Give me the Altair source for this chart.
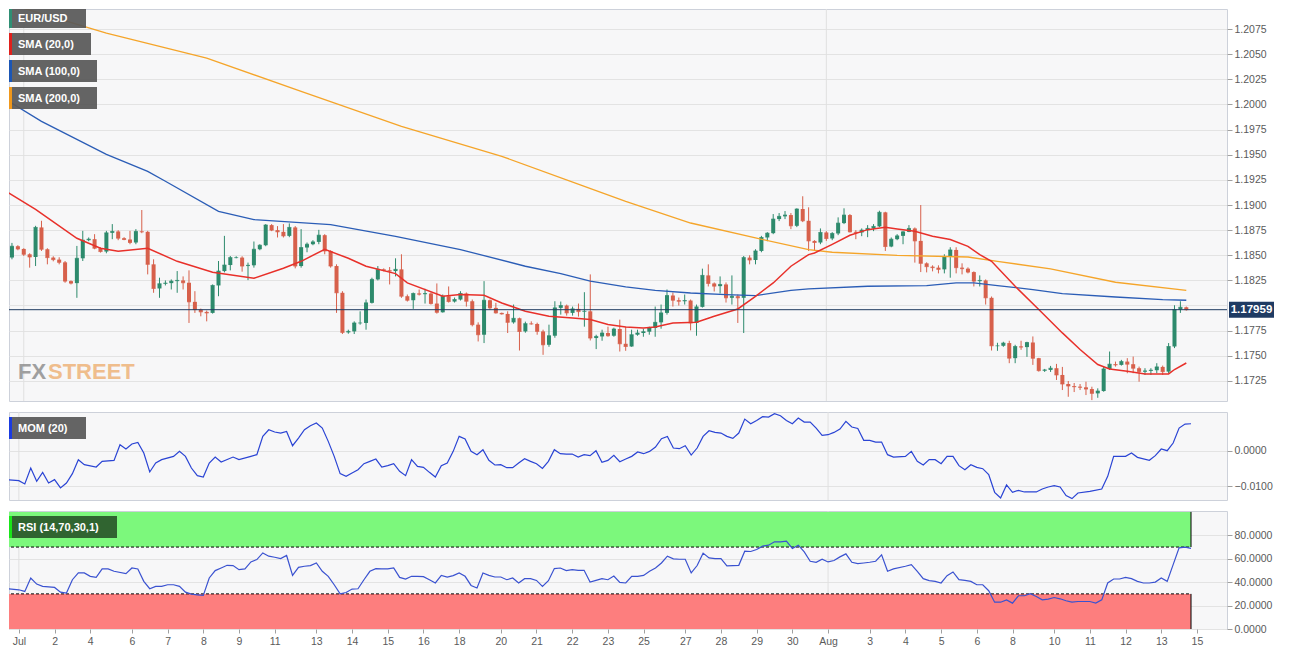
import altair as alt
import pandas as pd

# ---------------- data ----------------
first_open = 1.18943
close = [
1.18477,1.18590,1.18563,1.18510,1.18483,1.18777,1.18560,1.18477,1.18457,1.18430,
1.18243,1.18223,1.18470,1.18650,1.18660,1.18570,1.18537,1.18723,1.18737,1.18670,
1.18657,1.18627,1.18737,1.18733,1.18410,1.18170,1.18217,1.18223,1.18243,1.18250,
1.18227,1.18037,1.17960,1.17937,1.17927,1.18200,1.18343,1.18403,1.18477,1.18477,
1.18393,1.18400,1.18560,1.18600,1.18800,1.18750,1.18733,1.18693,1.18777,1.18393,
1.18577,1.18610,1.18633,1.18700,1.18543,1.18393,1.18127,1.17733,1.17743,1.17827,
1.17827,1.18027,1.18260,1.18360,1.18350,1.18343,1.18360,1.18093,1.18053,1.18120,
1.18113,1.18120,1.18020,1.17933,1.18093,1.18040,1.18060,1.18120,1.18043,1.17810,
1.17710,1.18053,1.17977,1.17927,1.17917,1.17833,1.17873,1.17743,1.17820,1.17817,
1.17743,1.17610,1.17700,1.17977,1.18000,1.17927,1.17967,1.17940,1.17943,1.17677,
1.17693,1.17727,1.17700,1.17767,1.17620,1.17593,1.17710,1.17727,1.17740,1.17777,
1.17833,1.17927,1.18100,1.18053,1.18043,1.18050,1.17827,1.17987,1.18300,1.18220,
1.18193,1.18210,1.18077,1.18093,1.18077,1.18477,1.18453,1.18543,1.18677,1.18720,
1.18860,1.18887,1.18900,1.18793,1.18960,1.18843,1.18643,1.18627,1.18727,1.18667,
1.18717,1.18820,1.18900,1.18733,1.18727,1.18750,1.18767,1.18787,1.18927,1.18587,
1.18660,1.18693,1.18733,1.18767,1.18643,1.18420,1.18387,1.18377,1.18360,1.18487,
1.18553,1.18377,1.18367,1.18333,1.18243,1.18250,1.18077,1.17600,1.17600,1.17627,
1.17477,1.17593,1.17587,1.17633,1.17477,1.17353,1.17360,1.17377,1.17310,1.17220,
1.17200,1.17193,1.17187,1.17170,1.17127,1.17150,1.17370,1.17417,1.17410,1.17443,
1.17417,1.17377,1.17343,1.17350,1.17357,1.17390,1.17343,1.17593,1.17960,1.17983,
1.17959]
high = [
1.18960,1.18623,1.18600,1.18570,1.18520,1.18793,1.18843,1.18570,1.18490,1.18480,
1.18443,1.18250,1.18593,1.18743,1.18677,1.18710,1.18580,1.18743,1.18810,1.18750,
1.18680,1.18743,1.18760,1.18950,1.18743,1.18460,1.18277,1.18250,1.18260,1.18343,
1.18290,1.18350,1.18143,1.17970,1.17950,1.18210,1.18443,1.18693,1.18493,1.18490,
1.18490,1.18427,1.18637,1.18610,1.18810,1.18810,1.18790,1.18810,1.18817,1.18790,
1.18760,1.18627,1.18650,1.18753,1.18710,1.18550,1.18410,1.18143,1.17760,1.17843,
1.17943,1.18060,1.18277,1.18393,1.18370,1.18383,1.18470,1.18510,1.18110,1.18130,
1.18160,1.18167,1.18130,1.18220,1.18110,1.18190,1.18080,1.18143,1.18130,1.18060,
1.17833,1.18243,1.18060,1.18027,1.17930,1.17943,1.18010,1.17880,1.17840,1.17843,
1.17830,1.17760,1.17810,1.18043,1.18040,1.18010,1.17990,1.18020,1.18133,1.18310,
1.17710,1.17760,1.17790,1.17780,1.17860,1.17790,1.17760,1.17760,1.17770,1.17790,
1.17990,1.18010,1.18160,1.18130,1.18080,1.18110,1.18060,1.18010,1.18367,1.18410,
1.18230,1.18290,1.18230,1.18300,1.18110,1.18493,1.18500,1.18560,1.18693,1.18730,
1.18910,1.18920,1.18940,1.18920,1.18967,1.19087,1.18977,1.18650,1.18767,1.18740,
1.18730,1.18877,1.18967,1.18910,1.18750,1.18767,1.18800,1.18810,1.18943,1.18933,
1.18677,1.18710,1.18740,1.18800,1.18777,1.19000,1.18430,1.18400,1.18400,1.18510,
1.18580,1.18580,1.18420,1.18380,1.18340,1.18300,1.18260,1.18090,1.17630,1.17640,
1.17650,1.17610,1.17650,1.17640,1.17693,1.17480,1.17370,1.17400,1.17420,1.17390,
1.17250,1.17230,1.17220,1.17243,1.17193,1.17177,1.17393,1.17543,1.17443,1.17460,
1.17477,1.17493,1.17393,1.17377,1.17377,1.17427,1.17403,1.17627,1.18003,1.18043,
1.17990]
low = [
1.18460,1.18460,1.18550,1.18493,1.18377,1.18393,1.18543,1.18410,1.18440,1.18410,
1.18227,1.18210,1.18077,1.18443,1.18640,1.18560,1.18527,1.18520,1.18660,1.18650,
1.18650,1.18610,1.18610,1.18720,1.18310,1.18127,1.18077,1.18200,1.18160,1.18127,
1.18160,1.17827,1.17927,1.17893,1.17843,1.17920,1.18093,1.18330,1.18350,1.18470,
1.18337,1.18253,1.18377,1.18550,1.18590,1.18740,1.18677,1.18677,1.18680,1.18370,
1.18377,1.18530,1.18600,1.18610,1.18510,1.18377,1.17927,1.17717,1.17720,1.17717,
1.17810,1.17760,1.18020,1.18250,1.18340,1.18210,1.18290,1.18077,1.18040,1.17967,
1.18100,1.18020,1.18010,1.17920,1.17930,1.18030,1.18030,1.18050,1.17990,1.17793,
1.17643,1.17627,1.17960,1.17920,1.17910,1.17727,1.17820,1.17553,1.17730,1.17810,
1.17710,1.17510,1.17590,1.17680,1.17910,1.17900,1.17900,1.17890,1.17790,1.17653,
1.17567,1.17650,1.17690,1.17690,1.17543,1.17550,1.17590,1.17700,1.17690,1.17710,
1.17690,1.17770,1.17910,1.17990,1.18000,1.18010,1.17753,1.17700,1.17980,1.18190,
1.18140,1.18120,1.18030,1.18010,1.17827,1.17727,1.18410,1.18410,1.18530,1.18640,
1.18710,1.18840,1.18860,1.18760,1.18780,1.18830,1.18543,1.18543,1.18610,1.18643,
1.18650,1.18700,1.18810,1.18727,1.18660,1.18690,1.18680,1.18740,1.18780,1.18543,
1.18580,1.18650,1.18610,1.18730,1.18427,1.18333,1.18330,1.18340,1.18320,1.18320,
1.18277,1.18320,1.18310,1.18320,1.18190,1.18190,1.18010,1.17553,1.17550,1.17590,
1.17427,1.17427,1.17560,1.17490,1.17410,1.17343,1.17340,1.17340,1.17260,1.17160,
1.17093,1.17140,1.17160,1.17110,1.17060,1.17083,1.17143,1.17360,1.17393,1.17403,
1.17327,1.17327,1.17243,1.17310,1.17310,1.17327,1.17310,1.17327,1.17577,1.17927,
1.17950]

sma20_k = [0,5,12,16,19,24,29,35,42,47,50,54,58,61,66,68,74,77,81,84,88,92,96,99,102,105,108,110,113,117,
           120,124,127,130,133,136,137,140,143,146,149,151,154,157,160,163,165,167,171,175,179,182,185,187,190,193,197,198,200]
sma20_v = [1.19136,1.18957,1.18669,1.18570,1.18540,1.18570,1.18440,1.18331,1.18271,1.18371,
           1.18440,1.18560,1.18470,1.18391,1.18318,1.18225,1.18092,1.18109,1.18102,1.18026,
           1.17943,1.17894,1.17877,1.17861,1.17811,1.17787,1.17777,1.17787,1.17827,1.17834,
           1.17894,1.17966,1.18092,1.18225,1.18391,1.18507,1.18523,1.18609,1.18699,1.18755,
           1.18778,1.18761,1.18739,1.18689,1.18656,1.18589,1.18507,1.18440,1.18192,1.17960,
           1.17728,1.17563,1.17414,1.17370,1.17347,1.17320,1.17320,1.17364,1.17429]
sma100_k = [0,6,17,24,27,36,42,55,66,77,88,94,99,105,110,116,122,127,133,136,146,156,161,164,168,174,179,188,196,200]
sma100_v = [1.20048,1.19832,1.19504,1.19335,1.19236,1.18937,1.18855,1.18805,1.18689,1.18557,
            1.18391,1.18318,1.18242,1.18185,1.18152,1.18125,1.18109,1.18099,1.18152,1.18165,
            1.18192,1.18199,1.18225,1.18225,1.18199,1.18159,1.18119,1.18085,1.18060,1.18053]
sma200_k = [0,17,34,50,67,84,98,105,116,127,136,140,151,163,168,177,188,200]
sma200_v = [1.21008,1.20710,1.20461,1.20130,1.19782,1.19484,1.19186,1.19037,1.18821,1.18672,
            1.18557,1.18530,1.18500,1.18483,1.18440,1.18364,1.18232,1.18152]

mom_k = [0,1,3,4,5,6,7,8,9,10,11,12,13,14,16,17,19,20,21,22,23,24,25,26,27,29,30,31,32,33,
         34,35,36,37,39,40,42,43,44,45,46,47,48,49,50,51,52,53,54,55,56,57,58,59,60,61,62,63,64,65,
         66,67,68,69,70,71,72,73,74,75,
         76,77,78,79,80,81,82,83,84,85,86,87,88,89,90,91,92,93,94,95,96,97,98,99,100,101,102,103,104,105,
         106,107,108,109,110,111,112,113,114,115,116,117,118,119,120,121,122,123,124,125,126,127,128,129,130,
         131,132,133,134,135,136,137,138,139,140,141,142,
         143,144,145,146,147,148,149,150,152,153,154,155,156,157,158,159,160,161,162,163,164,165,166,167,168,
         169,170,171,172,174,175,176,177,178,179,180,181,183,185,186,187,188,189,190,191,193,194,195,196,197,
         198,199,200]
mom_v = [-0.00907,-0.00813,-0.00842,-0.00935,-0.00486,-0.00860,-0.00608,-0.00907,-0.00813,-0.01047,
         -0.00907,-0.00645,-0.00252,-0.00393,-0.00458,-0.00299,-0.00271,0.00168,0.00047,0.00187,
         0.00234,-0.00065,-0.00598,-0.00346,-0.00252,-0.00159,-0.00019,-0.00159,-0.00486,-0.00701,
         -0.00739,-0.00346,-0.00178,-0.00318,-0.00178,-0.00252,-0.00159,-0.00112,0.00402,0.00589,
         0.00524,0.00496,0.00542,0.00140,0.00355,0.00589,0.00701,0.00776,0.00636,0.00262,
         -0.00159,-0.00645,-0.00720,-0.00626,-0.00533,-0.00365,-0.00299,-0.00234,-0.00458,-0.00421,
         -0.00365,-0.00580,-0.00701,-0.00252,-0.00439,-0.00468,-0.00608,-0.00739,-0.00421,-0.00346,
         -0.00019,0.00402,0.00327,-0.00019,-0.00112,0.00028,-0.00271,-0.00402,-0.00393,-0.00477,
         -0.00477,-0.00346,-0.00224,-0.00299,-0.00365,-0.00496,-0.00299,0.00028,-0.00084,-0.00094,
         -0.00094,-0.00178,-0.00112,-0.00140,0.00000,-0.00327,-0.00271,-0.00131,-0.00309,-0.00234,
         -0.00159,-0.00037,-0.00084,-0.00019,0.00103,0.00337,0.00402,0.00075,0.00056,0.00140,
         -0.00122,0.00075,0.00402,0.00561,0.00514,0.00496,0.00402,0.00346,0.00496,0.00888,
         0.00757,0.00851,0.00954,0.00944,0.01038,0.00982,0.00851,0.00757,0.00916,0.00804,
         0.00804,0.00636,0.00430,0.00449,0.00514,0.00608,0.00823,
         0.00664,0.00626,0.00290,0.00290,0.00243,0.00243,-0.00112,-0.00178,-0.00159,-0.00019,
         -0.00299,-0.00402,-0.00252,-0.00252,-0.00365,-0.00159,-0.00159,-0.00421,-0.00533,-0.00393,
         -0.00468,-0.00505,-0.00673,-0.01169,-0.01328,-0.00963,-0.01169,-0.01113,-0.01159,-0.01159,
         -0.01075,-0.01019,-0.00982,-0.01019,-0.01262,-0.01347,-0.01187,-0.01141,-0.01075,-0.00720,
         -0.00159,-0.00159,-0.00159,-0.00065,-0.00187,-0.00271,-0.00140,0.00047,0.00000,0.00215,
         0.00636,0.00748,0.00757]

rsi_k = [0,1,3,4,5,6,7,9,10,11,12,13,14,15,16,17,18,19,
         21,22,23,24,25,26,27,28,29,30,31,32,33,34,35,36,37,38,39,40,41,42,43,44,45,46,47,48,49,50,
         51,52,53,54,55,56,57,58,59,60,61,62,63,64,65,66,67,68,69,70,71,72,73,74,75,
         76,77,78,79,80,81,82,83,84,85,86,87,88,89,90,91,92,93,94,95,96,97,98,99,100,101,102,103,104,105,
         106,107,108,109,110,111,112,113,114,115,116,117,118,119,120,121,122,123,124,125,126,127,128,129,130,
         131,132,133,134,135,136,137,138,139,140,141,142,
         143,144,145,146,147,148,149,150,152,153,154,155,156,157,158,159,160,161,162,163,164,165,166,167,168,
         169,170,171,172,173,174,175,176,177,178,179,180,181,183,184,185,186,187,188,189,190,191,192,193,194,
         195,196,197,198,199,200]
rsi_v = [31.2,34.4,33.5,32.1,43.6,38.4,36.4,35.5,31.5,30.7,42.1,47.9,47.9,45.0,44.1,51.3,51.3,49.3,
         47.3,52.1,51.3,40.7,34.4,36.4,36.4,37.8,37.8,36.4,31.5,29.8,29.2,28.7,43.6,49.9,52.1,54.4,54.2,50.7,
         51.3,57.3,59.3,65.0,62.2,61.3,60.2,62.8,45.8,52.7,53.6,54.2,56.4,49.3,45.0,37.8,30.1,31.2,34.1,34.4,
         42.1,49.3,51.6,51.3,51.3,52.1,44.1,42.7,45.0,45.0,44.7,42.1,39.3,45.8,44.4,
         45.6,47.9,45.0,37.2,35.0,47.9,45.8,44.4,44.4,42.1,43.6,39.3,43.0,43.0,41.5,36.4,41.3,51.6,52.1,49.9,
         50.7,50.1,50.1,40.1,41.5,43.0,42.1,45.3,39.8,39.3,45.0,45.0,45.8,49.3,52.1,56.4,62.2,59.9,59.6,59.6,
         47.9,54.2,64.8,60.7,60.2,60.2,53.9,54.2,54.4,66.5,66.2,67.9,70.8,71.6,74.5,74.5,75.1,68.8,71.6,65.9,
         57.9,57.0,59.6,57.3,58.5,61.6,64.2,
         57.0,55.9,56.4,57.0,57.9,63.3,49.3,51.3,53.6,55.0,49.3,43.0,41.3,40.7,39.3,45.6,48.7,42.1,41.5,40.7,
         37.8,37.8,32.7,22.9,22.9,24.9,22.1,28.4,28.4,30.1,27.8,24.9,25.5,26.9,25.8,24.1,22.9,23.5,23.5,22.1,
         24.9,39.3,42.7,42.7,44.1,43.0,40.7,39.3,39.3,40.1,43.6,40.7,55.0,69.3,69.9,68.8]

tick_k = [3,9,15,22,28,34,40,46,53,59,65,71,77,84,90,96,102,108,115,121,127,133,139,146,152,158,164,170,177,183,189,195,201]
tick_lab = ["Jul","2","4","6","7","8","9","11","13","14","15","16","18","20","21","22","23","25","27","28",
            "29","30","Aug","3","4","5","6","8","10","11","12","13","15"]
month_k = [3, 139]
# 1.1800 sits under the last-price tag in the reference, so it is drawn as a grid line only
price_ticks = [1.1725,1.1750,1.1775,1.1825,1.1850,1.1875,1.1900,1.1925,1.1950,1.1975,1.2000,1.2025,1.2050,1.2075]
hidden_grid = [1.1800]
mom_ticks = [-0.01, 0.0]
rsi_ticks = [0, 20, 40, 60, 80]
rsi_levels = [70, 30]

# ---------------- styling ----------------
W = 1218
H_PRICE, H_MOM, H_RSI = 392, 88, 118
FONT = "Liberation Sans"
GREEN, RED = "#2d8a6c", "#d7604b"
LBL = "#5a5a5a"
GRID = "#e3e3e3"

n = len(close)
opens = [first_open] + close[:-1]
candles = pd.DataFrame({"k": list(range(n)), "o": opens, "h": high, "l": low, "c": close})
candles["dir"] = ["up" if c >= o else "down" for o, c in zip(opens, close)]

xscale = alt.Scale(domain=[1.345, 206.05], nice=False, zero=False)


def yaxis(values, grid=True):
    return alt.Axis(orient="right", values=values, format=".4f", title=None, grid=grid,
                    gridColor=GRID, domain=False, tickColor="#a0a0a0", tickSize=5,
                    labelColor=LBL, labelFont=FONT, labelFontSize=10.5, labelPadding=2)


price_scale = alt.Scale(domain=[1.17051, 1.20949], nice=False, zero=False)
mom_scale = alt.Scale(domain=[-0.01385, 0.01087], nice=False, zero=False)
rsi_scale = alt.Scale(domain=[0, 100.8], nice=False, zero=False)
price_axis = yaxis(price_ticks)
mom_axis = yaxis(mom_ticks)
rsi_axis = yaxis(rsi_ticks)

label_expr = "[" + ",".join("'%s'" % t for t in tick_lab) + "][indexof([" + ",".join(str(k) for k in tick_k) + "], datum.value)]"
x_axis = alt.Axis(orient="bottom", values=tick_k, labelExpr=label_expr, title=None, grid=False,
                  domain=False, tickColor="#a0a0a0", tickSize=4, labelColor=LBL, labelFont=FONT,
                  labelFontSize=10.5, labelPadding=3, labelOverlap=False, labelFlush=False)


def X(field="k", axis=None):
    return alt.X(f"{field}:Q", scale=xscale, axis=axis)


def PY(field):
    return alt.Y(f"{field}:Q", scale=price_scale, axis=price_axis)


def box(text, strip, x1, y0, h=22, bg="#585858", op=0.93):
    d = alt.Chart(pd.DataFrame({"t": [text]}))
    r = d.mark_rect(color=bg, opacity=op).encode(x=alt.value(0), x2=alt.value(x1),
                                                  y=alt.value(y0), y2=alt.value(y0 + h))
    s = d.mark_rect(color=strip).encode(x=alt.value(0), x2=alt.value(3),
                                        y=alt.value(y0), y2=alt.value(y0 + h))
    t = d.mark_text(align="left", baseline="middle", color="white", font=FONT, fontSize=11,
                    fontWeight="bold").encode(x=alt.value(9), y=alt.value(y0 + h / 2 + 0.5), text="t:N")
    return [r, s, t]


col = alt.Color("dir:N", scale=alt.Scale(domain=["up", "down"], range=[GREEN, RED]), legend=None)

# ---------------- price panel ----------------
cb = alt.Chart(candles)
wicks = cb.mark_rule(strokeWidth=1, clip=True).encode(x=X(), y=PY("l"), y2="h:Q", color=col)
bodies = cb.mark_bar(size=4, clip=True).encode(x=X(), y=PY("o"), y2="c:Q", color=col)
doji = cb.mark_tick(orient="horizontal", size=4, thickness=1, clip=True).encode(x=X(), y=PY("c"), color=col)

months = pd.DataFrame({"k": month_k})
mrule_p = alt.Chart(months).mark_rule(color="#e0e0e0", clip=True).encode(x=X())
hgrid = alt.Chart(pd.DataFrame({"g": hidden_grid})).mark_rule(color=GRID, strokeWidth=1).encode(y=PY("g"))


def sma(ks, vs, color, w):
    return alt.Chart(pd.DataFrame({"k": ks, "v": vs})).mark_line(color=color, strokeWidth=w, clip=True).encode(
        x=X(), y=PY("v"))


s200 = sma(sma200_k, sma200_v, "#f5a52a", 1.3)
s100 = sma(sma100_k, sma100_v, "#2b5db6", 1.3)
s20 = sma(sma20_k, sma20_v, "#e8302a", 1.5)

last = alt.Chart(pd.DataFrame({"p": [close[-1]]}))
pline = last.mark_rule(color="#1e3a60", strokeWidth=1).encode(y=PY("p"))
ptag = last.mark_tick(orient="horizontal", size=45, thickness=16, color="#1f3b63", opacity=1).encode(
    x=alt.value(W + 24.5), y=PY("p"))
ptxt = last.mark_text(color="white", font=FONT, fontSize=11.5, fontWeight="bold", align="center",
                      baseline="middle").encode(x=alt.value(W + 24.5), y=PY("p"),
                                                text=alt.Text("p:Q", format=".5f"))

logo_d = alt.Chart(pd.DataFrame({"a": ["FX"], "b": ["STREET"]}))
logo1 = logo_d.mark_text(align="left", baseline="alphabetic", font=FONT, fontSize=22,
                         fontWeight="bold", color="#8a8a8a", opacity=0.8).encode(
    x=alt.value(9), y=alt.value(370), text="a:N")
logo2 = logo_d.mark_text(align="left", baseline="alphabetic", font=FONT, fontSize=22,
                         fontWeight="bold", color="#eeb37a", opacity=0.85).encode(
    x=alt.value(39), y=alt.value(370), text="b:N")

price_layers = [hgrid, mrule_p, wicks, bodies, doji, s200, s100, s20, pline, ptag, ptxt, logo1, logo2]
price_layers += box("EUR/USD", "#2f8f74", 77, 0, h=19)
price_layers += box("SMA (20,0)", "#e0201c", 82, 24)
price_layers += box("SMA (100,0)", "#1b56b5", 88, 51)
price_layers += box("SMA (200,0)", "#f0981c", 88, 78)
price = alt.layer(*price_layers).properties(width=W, height=H_PRICE)

# ---------------- momentum panel ----------------
mrule_m = alt.Chart(months).mark_rule(color="#e0e0e0", clip=True).encode(x=X())
mom_line = alt.Chart(pd.DataFrame({"k": mom_k, "v": mom_v})).mark_line(
    color="#2a44d4", strokeWidth=1.2, clip=True).encode(
    x=X(), y=alt.Y("v:Q", scale=mom_scale, axis=mom_axis))
mom = alt.layer(mrule_m, mom_line, *box("MOM (20)", "#1a3be0", 77, 5)).properties(width=W, height=H_MOM)

# ---------------- RSI panel ----------------
def RY(field):
    return alt.Y(f"{field}:Q", scale=rsi_scale, axis=rsi_axis)


bands = pd.DataFrame({"k0": [0], "k1": [n - 1], "ob0": [70], "ob1": [100], "os0": [0], "os1": [30]})
bd = alt.Chart(bands)
ob = bd.mark_rect(color="#7cf87c", clip=True).encode(x=X("k0", x_axis), x2="k1:Q", y=RY("ob0"), y2="ob1:Q")
os_ = bd.mark_rect(color="#fd7e7e", clip=True).encode(x=X("k0", x_axis), x2="k1:Q", y=RY("os0"), y2="os1:Q")
edge1 = bd.mark_rule(color="black", strokeWidth=1).encode(x=X("k1", x_axis), y=RY("ob0"), y2="ob1:Q")
edge2 = bd.mark_rule(color="black", strokeWidth=1).encode(x=X("k1", x_axis), y=RY("os0"), y2="os1:Q")
lv = alt.Chart(pd.DataFrame({"lv": rsi_levels, "k0": [0, 0], "k1": [n - 1, n - 1]}))
lvl = lv.mark_rule(color="black", strokeWidth=1, strokeDash=[3, 2], clip=True).encode(
    x=X("k0", x_axis), x2="k1:Q", y=RY("lv"))
mrule_r = alt.Chart(months).mark_rule(color="#e0e0e0", clip=True).encode(x=X("k", x_axis))
rsi_line = alt.Chart(pd.DataFrame({"k": rsi_k, "v": rsi_v})).mark_line(
    color="#3a52d0", strokeWidth=1.2, clip=True).encode(x=X("k", x_axis), y=RY("v"))
rsi = alt.layer(mrule_r, ob, os_, lvl, edge1, edge2, rsi_line,
                *box("RSI (14,70,30,1)", "#19e619", 108, 5, bg="#2c5c2c", op=0.95)).properties(
    width=W, height=H_RSI)

chart = alt.vconcat(price, mom, rsi, spacing=9).properties(
    padding=0, background="white"
).configure_view(stroke="#cdd1da", strokeWidth=1, fill="#f7f7f8")

chart.save("out.html", embed_options={"renderer": "svg", "actions": False})
